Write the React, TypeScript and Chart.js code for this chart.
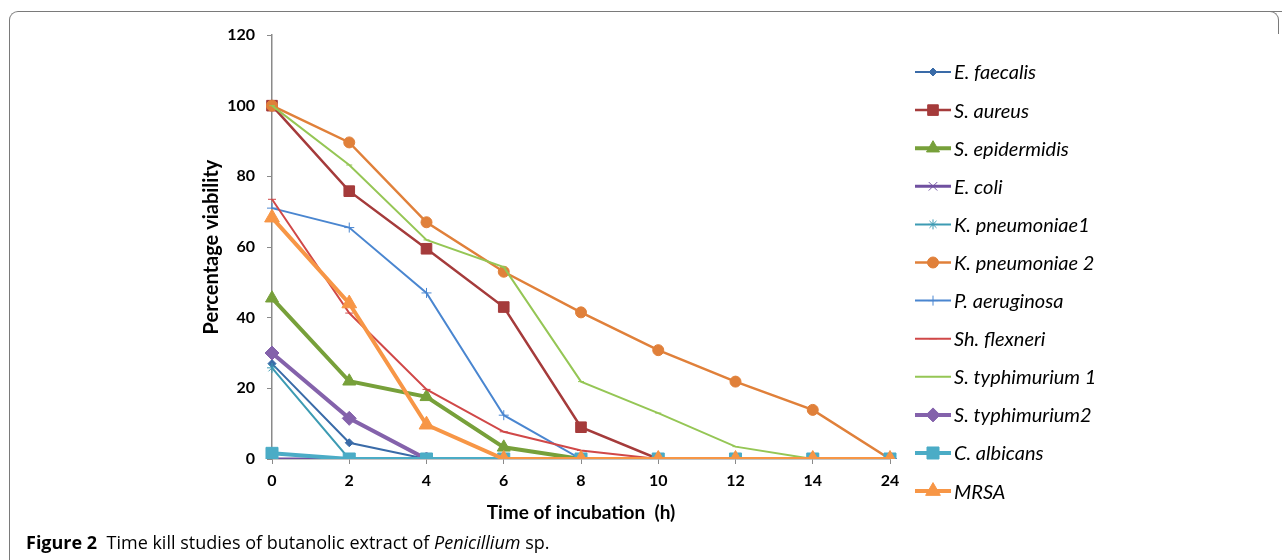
import React, { useEffect, useRef } from 'react';
import { Chart, registerables } from 'chart.js';
import { drawPoint } from 'chart.js/helpers';

Chart.register(...registerables);

// ---- data ----
const timeLabels = ['0', '2', '4', '6', '8', '10', '12', '14', '24'];
const yTicks = [0, 20, 40, 60, 80, 100, 120];

const seriesNames = [
  'E. faecalis',
  'S. aureus',
  'S. epidermidis',
  'E. coli',
  'K. pneumoniae1',
  'K. pneumoniae 2',
  'P. aeruginosa',
  'Sh. flexneri',
  'S. typhimurium 1',
  'S. typhimurium2',
  'C. albicans',
  'MRSA',
];

const eFaecalis = [27, 4.6, 0, 0, 0, 0, 0, 0, 0];
const sAureus = [100, 75.8, 59.5, 43, 9, 0, 0, 0, 0];
const sEpidermidis = [45.5, 22, 17.6, 3.3, 0, 0, 0, 0, 0];
const eColi = [0, 0, 0, 0, 0, 0, 0, 0, 0];
const kPneumoniae1 = [25.8, 0, 0, 0, 0, 0, 0, 0, 0];
const kPneumoniae2 = [100, 89.6, 67, 53, 41.5, 30.8, 21.9, 13.9, 0];
const pAeruginosa = [71, 65.5, 47, 12.4, 0, 0, 0, 0, 0];
const shFlexneri = [73.5, 41.3, 19.7, 7.7, 2.4, 0, 0, 0, 0];
const sTyphimurium1 = [100, 83.2, 62, 54.3, 21.9, 13, 3.5, 0, 0];
const sTyphimurium2 = [30, 11.5, 0, 0, 0, 0, 0, 0, 0];
const cAlbicans = [1.6, 0, 0, 0, 0, 0, 0, 0, 0];
const mrsa = [68.3, 44, 9.7, 0, 0, 0, 0, 0, 0];

const seriesValues = [
  eFaecalis, sAureus, sEpidermidis, eColi, kPneumoniae1, kPneumoniae2,
  pAeruginosa, shFlexneri, sTyphimurium1, sTyphimurium2, cAlbicans, mrsa,
];

// ---- styles ----
const seriesColors = [
  '#3A6BA8', '#A53B3B', '#77A03A', '#7050A0', '#3D9BB3', '#E0803A',
  '#4A86D0', '#D04848', '#95C655', '#8462AB', '#4BACC6', '#F79646',
];
const seriesLineWidths = [2, 2.5, 4, 3, 2, 2.5, 2, 2, 2, 4, 4, 4];
const seriesPointStyles = [
  'rectRot', 'rect', 'triangle', 'crossRot', 'star', 'circle',
  'cross', 'line', 'line', 'rectRot', 'rect', 'triangle',
];
const seriesPointRadii = [4, 7.5, 7.5, 6, 5, 5.5, 5, 4, 3, 7, 8.5, 8.5];

const FONT = 'Lato, "Open Sans", sans-serif';

const LEGEND_LINE_X0 = 915;
const LEGEND_LINE_X1 = 951;
const LEGEND_TEXT_X = 954;
const LEGEND_TOP = 72;
const LEGEND_STEP = 38.1;

const legendPlugin = {
  id: 'sideLegend',
  afterDraw(chart: any) {
    const ctx = chart.ctx as CanvasRenderingContext2D;
    chart.data.datasets.forEach((ds: any, i: number) => {
      const y = LEGEND_TOP + i * LEGEND_STEP;
      ctx.save();
      ctx.strokeStyle = ds.borderColor;
      ctx.fillStyle = ds.borderColor;
      ctx.lineWidth = ds.borderWidth;
      ctx.beginPath();
      ctx.moveTo(LEGEND_LINE_X0, y);
      ctx.lineTo(LEGEND_LINE_X1, y);
      ctx.stroke();
      if (ds.legendMarker !== false) {
        ctx.lineWidth = 1;
        drawPoint(ctx, { pointStyle: ds.pointStyle, radius: ds.pointRadius, rotation: 0, borderWidth: 1 } as any,
          (LEGEND_LINE_X0 + LEGEND_LINE_X1) / 2, y);
      }
      ctx.fillStyle = '#000';
      ctx.font = `italic 20px ${FONT}`;
      ctx.textBaseline = 'middle';
      ctx.textAlign = 'left';
      ctx.fillText(seriesNames[i], LEGEND_TEXT_X, y + 1);
      ctx.restore();
    });
  },
};

export default function App() {
  const canvasRef = useRef<HTMLCanvasElement | null>(null);

  useEffect(() => {
    document.body.style.margin = '0';
    const canvas = canvasRef.current;
    if (!canvas) return;
    const datasets = seriesNames.map((name, i) => ({
      label: name,
      data: seriesValues[i],
      borderColor: seriesColors[i],
      backgroundColor: seriesColors[i],
      pointBackgroundColor: seriesColors[i],
      pointBorderColor: seriesColors[i],
      borderWidth: seriesLineWidths[i],
      pointStyle: seriesPointStyles[i],
      pointRadius: seriesPointRadii[i],
      pointBorderWidth: 1,
      tension: 0,
      fill: false,
      order: seriesNames.length - i,
      legendMarker: i !== 8,
    }));

    const axisGray = '#8A8A8A';
    const chart = new Chart(canvas, {
      type: 'line',
      data: { labels: timeLabels, datasets: datasets as any },
      options: {
        animation: false,
        responsive: false,
        maintainAspectRatio: false,
        layout: { padding: { left: 0, top: 35, right: 392, bottom: 0 } },
        plugins: {
          legend: { display: false },
          tooltip: { enabled: false },
        },
        scales: {
          x: {
            type: 'category',
            offset: false,
            grid: { display: true, drawOnChartArea: false, drawTicks: true, tickLength: 5, color: axisGray },
            border: { display: true, color: axisGray, width: 1.5 },
            ticks: { color: '#000', font: { family: FONT, weight: 'bold', size: 16 }, padding: 7, maxRotation: 0 },
            title: {
              display: true,
              text: 'Time of incubation  (h)',
              color: '#000',
              font: { family: FONT, weight: 'bold', size: 19 },
              padding: { top: 0, bottom: 36 },
            },
            afterFit: (s: any) => { s.height = 101; },
          },
          y: {
            min: 0,
            max: 120,
            afterBuildTicks: (s: any) => { s.ticks = yTicks.map((v) => ({ value: v })); },
            grid: { display: true, drawOnChartArea: false, drawTicks: true, tickLength: 5, color: axisGray },
            border: { display: true, color: axisGray, width: 1.5 },
            ticks: { color: '#000', font: { family: FONT, weight: 'bold', size: 16 }, padding: 12 },
            title: {
              display: true,
              text: 'Percentage viability',
              color: '#000',
              font: { family: FONT, weight: 'bold', size: 20 },
              padding: { top: 200, bottom: 0 },
            },
            afterFit: (s: any) => { s.width = 272; },
          },
        },
      },
      plugins: [legendPlugin],
    });
    return () => chart.destroy();
  }, []);

  return (
    <div style={{ position: 'relative', width: 1282, height: 560, background: '#fff', overflow: 'hidden' }}>
      <canvas ref={canvasRef} width={1282} height={560} style={{ position: 'absolute', left: 0, top: 0, width: 1282, height: 560 }} />
      <div style={{
        position: 'absolute', left: 9, top: 11, width: 1300, height: 600,
        borderTop: '1.5px solid #7a7a7a', borderLeft: '1.5px solid #7a7a7a',
        borderTopLeftRadius: 9, pointerEvents: 'none',
      }} />
      <div style={{
        position: 'absolute', left: 1258, top: 11, width: 20, height: 22,
        borderTop: '1.5px solid #7a7a7a', borderRight: '1.5px solid #7a7a7a',
        borderTopRightRadius: 9, pointerEvents: 'none',
      }} />
      <div style={{
        position: 'absolute', left: 26, top: 529, fontFamily: '"Open Sans", sans-serif', fontSize: 18,
        color: '#000', whiteSpace: 'pre', lineHeight: '26px',
      }}>
        <b>Figure 2</b>{'  Time kill studies of butanolic extract of '}<i>Penicillium</i>{' sp.'}
      </div>
    </div>
  );
}
